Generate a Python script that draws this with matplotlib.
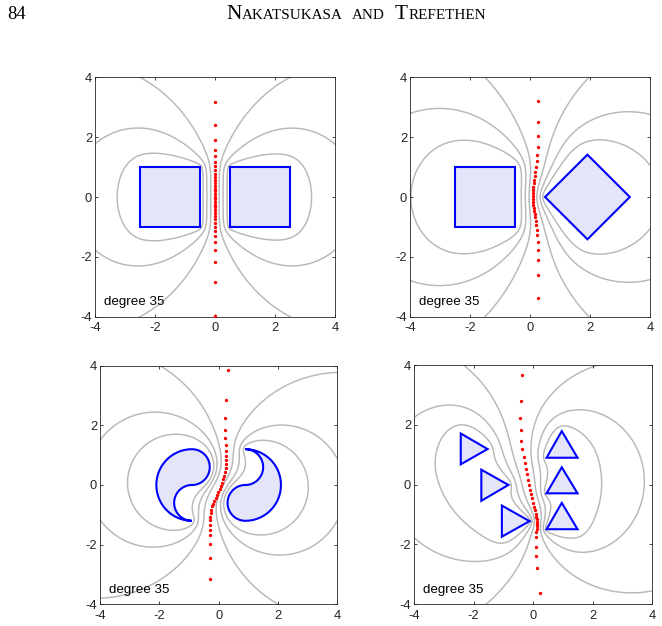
import numpy as np
import matplotlib
matplotlib.use("Agg")
import matplotlib.pyplot as plt
from matplotlib.patches import Polygon

W, H, DPI = 662, 626, 100

# ---------------- data ----------------
tick_values = [-4, -2, 0, 2, 4]
tick_labels = ['-4', '-2', '0', '2', '4']
panel_label = 'degree 35'
page_number = '84'
running_head = 'Nakatsukasa and Trefethen'

# Panel 1: two squares
p1_left_x = [-2.5, -0.5, -0.5, -2.5]
p1_left_y = [-1.0, -1.0, 1.0, 1.0]
p1_right_x = [0.5, 2.5, 2.5, 0.5]
p1_right_y = [-1.0, -1.0, 1.0, 1.0]
p1_pole_x = [0.0] * 34
p1_pole_y = [3.17, 2.40, 1.90, 1.57, 1.36, 1.18, 1.02, 0.89, 0.77, 0.66, 0.56,
             0.46, 0.37, 0.28, 0.19, 0.10, 0.01, -0.08, -0.17, -0.26, -0.35,
             -0.44, -0.54, -0.64, -0.75, -0.87, -1.00, -1.15, -1.30, -1.49,
             -1.77, -2.18, -2.83, -3.97]
# points through which the drawn level curves pass (left side, right side)
p1_level_x = [-3.26, -2.72, -2.50, 3.22, 2.67, 2.50]
p1_level_y = [0.00, 2.30, 4.00, 0.00, 2.30, 4.00]

# Panel 2: square and diamond
p2_left_x = [-2.5, -0.5, -0.5, -2.5]
p2_left_y = [-1.0, -1.0, 1.0, 1.0]
p2_right_x = [0.5, 1.914, 3.328, 1.914]
p2_right_y = [0.0, 1.414, 0.0, -1.414]
p2_pole_x = [0.27, 0.27, 0.27, 0.26, 0.24, 0.22, 0.20, 0.18, 0.16, 0.13, 0.12,
             0.11, 0.10, 0.09, 0.09, 0.09, 0.10, 0.11, 0.12, 0.13, 0.16, 0.17,
             0.19, 0.20, 0.22, 0.23, 0.26, 0.27, 0.28, 0.28, 0.28]
p2_pole_y = [3.21, 2.51, 2.04, 1.68, 1.40, 1.19, 1.00, 0.84, 0.70, 0.58, 0.46,
             0.34, 0.24, 0.14, 0.04, -0.06, -0.16, -0.26, -0.36, -0.46, -0.57,
             -0.68, -0.80, -0.93, -1.09, -1.28, -1.50, -1.77, -2.10, -2.59, -3.37]
p2_level_x = [-3.97, -3.06, -1.50, 2.28, 3.28, 1.97]
p2_level_y = [0.00, 2.96, 4.00, 1.91, 2.85, 4.00]

# Panel 3: two yin-yang shapes (outer circle centres, radii)
p3_centre_x = [-0.9, 0.9]
p3_outer_r = 1.2
p3_inner_r = 0.6
p3_pole_x = [0.31, 0.24, 0.20, 0.22, 0.22, 0.24, 0.25, 0.26, 0.26, 0.26, 0.25,
             0.22, 0.19, 0.15, 0.12, 0.08, 0.03, -0.01, -0.06, -0.10, -0.15,
             -0.18, -0.22, -0.25, -0.27, -0.28, -0.29, -0.29, -0.29, -0.29,
             -0.28, -0.29, -0.29]
p3_pole_y = [3.87, 2.85, 2.26, 1.86, 1.58, 1.34, 1.14, 0.97, 0.83, 0.69, 0.56,
             0.42, 0.30, 0.19, 0.08, -0.02, -0.12, -0.22, -0.32, -0.42, -0.52,
             -0.63, -0.72, -0.84, -0.95, -1.07, -1.19, -1.34, -1.51, -1.68,
             -1.98, -2.44, -3.16]
p3_level_x = [-3.07, -2.26, -1.98, 3.02, 2.07, 2.01]
p3_level_y = [0.00, 2.44, 4.00, 0.00, 2.01, -4.00]

# Panel 4: three triangles on each side
p4_left_tri_x = [[-2.43, -2.43, -1.53], [-1.74, -1.74, -0.83], [-1.05, -1.05, -0.12]]
p4_left_tri_y = [[1.71, 0.68, 1.19], [0.50, -0.54, -0.01], [-0.70, -1.74, -1.22]]
p4_right_tri_x = [[0.45, 1.49, 0.96], [0.45, 1.49, 0.96], [0.45, 1.49, 0.96]]
p4_right_tri_y = [[0.90, 0.90, 1.79], [-0.29, -0.29, 0.58], [-1.49, -1.49, -0.61]]
p4_pole_x = [-0.39, -0.42, -0.43, -0.42, -0.41, -0.36, -0.32, -0.27, -0.24, -0.21,
             -0.17, -0.14, -0.11, -0.07, -0.04, -0.01, 0.03, 0.06, 0.08, 0.10,
             0.12, 0.13, 0.13, 0.13, 0.12, 0.10, 0.09, 0.09, 0.10, 0.14, 0.22]
p4_pole_y = [3.68, 2.80, 2.24, 1.82, 1.47, 1.18, 0.94, 0.71, 0.51, 0.34, 0.16,
             -0.01, -0.17, -0.31, -0.46, -0.60, -0.74, -0.86, -0.97, -1.07, -1.16,
             -1.24, -1.31, -1.39, -1.48, -1.58, -1.74, -2.07, -2.38, -2.80, -3.61]
p4_level_x = [-3.27, -2.85, -2.34, 2.30, 3.73, 2.19]
p4_level_y = [0.99, 2.66, 4.00, 0.00, 0.00, 4.00]

# ---------------- styling ----------------
FILL = (0.898, 0.898, 0.98)
EDGE = (0.0, 0.0, 1.0)
CONTOUR = (0.72, 0.72, 0.72)
AXC = (0.15, 0.15, 0.15)
SANS = ['Liberation Sans', 'DejaVu Sans']
SERIF = ['Liberation Serif', 'DejaVu Serif']


def yinyang(cx, R, r):
    n = 120
    a = np.linspace(np.pi / 2, 3 * np.pi / 2, n)
    outer = np.c_[cx + R * np.cos(a), R * np.sin(a)]
    b = np.linspace(-np.pi / 2, -3 * np.pi / 2, n // 2)
    lower = np.c_[cx + r * np.cos(b), -r + r * np.sin(b)]
    c = np.linspace(-np.pi / 2, np.pi / 2, n // 2)
    upper = np.c_[cx + r * np.cos(c), r + r * np.sin(c)]
    return np.vstack([outer, lower[1:], upper[1:-1]])


def yinyang_pair(cxs, R, r):
    left = yinyang(cxs[0], R, r)
    right = -left  # rotate by 180 degrees
    right[:, 0] += (cxs[1] + cxs[0])
    return left, right


def sample(poly, h=0.03):
    P = np.asarray(poly)
    Q = np.roll(P, -1, axis=0)
    mids, lens = [], []
    for p, q in zip(P, Q):
        L = np.hypot(*(q - p))
        n = max(1, int(np.ceil(L / h)))
        t = (np.arange(n) + 0.5) / n
        mids.append(p + np.outer(t, q - p))
        lens.append(np.full(n, L / n))
    m = np.vstack(mids)
    return m[:, 0] + 1j * m[:, 1], np.concatenate(lens)


def condenser(E, F):
    ze, he = zip(*[sample(p) for p in E])
    zf, hf = zip(*[sample(p) for p in F])
    ze, he, zf, hf = map(np.concatenate, (ze, he, zf, hf))
    z = np.concatenate([ze, zf])
    h = np.concatenate([he, hf])
    ne, n = len(ze), len(ze) + len(zf)
    D = np.abs(z[:, None] - z[None, :])
    np.fill_diagonal(D, 1.0)
    G = np.log(D)
    np.fill_diagonal(G, np.log(h / 2) - 1)
    A = np.zeros((n + 2, n + 2))
    A[:n, :n] = G
    A[:ne, n] = -1
    A[ne:n, n + 1] = -1
    A[n, :ne] = 1
    A[n + 1, ne:n] = 1
    rhs = np.zeros(n + 2)
    rhs[n] = 1
    rhs[n + 1] = -1
    sol = np.linalg.solve(A, rhs)
    q = sol[:n]

    def U(Zg):
        out = np.zeros(Zg.shape)
        for k in range(0, n, 60):
            zz = z[k:k + 60]
            qq = q[k:k + 60]
            out += np.tensordot(qq, np.log(np.abs(Zg[None] - zz.reshape(-1, *([1] * Zg.ndim)))), axes=1)
        return out
    return U


def draw_panel(ax, E, F, pole_x, pole_y, lev_x, lev_y):
    U = condenser(E, F)
    g = np.linspace(-4.3, 4.3, 311)
    X, Y = np.meshgrid(g, g)
    Ug = U(X + 1j * Y)
    lv = U(np.asarray(lev_x) + 1j * np.asarray(lev_y))
    lv = np.unique(np.round(lv, 8))
    ax.contour(X, Y, Ug, levels=lv, colors=[CONTOUR], linewidths=1.05,
               linestyles='solid', zorder=1)
    for p in list(E) + list(F):
        ax.add_patch(Polygon(p, closed=True, facecolor=FILL, edgecolor=EDGE,
                             linewidth=1.5, zorder=2, joinstyle='miter'))
    ax.plot(pole_x, pole_y, 'o', color=(1, 0, 0), markersize=2.4,
            markeredgewidth=0, zorder=3)
    ax.text(-3.7, -3.62, panel_label, fontsize=9.6, family=SANS, va='baseline',
            ha='left', color='k', zorder=4)
    ax.set_xlim(-4, 4)
    ax.set_ylim(-4, 4)
    ax.set_xticks(tick_values)
    ax.set_xticklabels(tick_labels)
    ax.set_yticks(tick_values)
    ax.set_yticklabels(tick_labels)
    ax.tick_params(direction='in', length=2.5, width=0.6, top=True, right=True,
                   labelsize=9.3, colors=AXC)
    ax.tick_params(axis='x', pad=4.0)
    ax.tick_params(axis='y', pad=2.0)
    for lab in ax.get_xticklabels() + ax.get_yticklabels():
        lab.set_family(SANS)
    for s in ax.spines.values():
        s.set_color(AXC)
        s.set_linewidth(0.6)


def poly(xs, ys):
    return np.c_[xs, ys]


fig = plt.figure(figsize=(W / DPI, H / DPI), dpi=DPI)


def axes_px(x0, x1, y0, y1):
    return fig.add_axes([x0 / W, 1 - y1 / H, (x1 - x0) / W, (y1 - y0) / H])


ax1 = axes_px(95, 335, 77.3, 316.7)
ax2 = axes_px(410, 650, 77.3, 316.7)
ax3 = axes_px(100, 337.3, 365.7, 604.3)
ax4 = axes_px(414, 652.3, 365, 604.3)

draw_panel(ax1, [poly(p1_left_x, p1_left_y)], [poly(p1_right_x, p1_right_y)],
           p1_pole_x, p1_pole_y, p1_level_x, p1_level_y)
draw_panel(ax2, [poly(p2_left_x, p2_left_y)], [poly(p2_right_x, p2_right_y)],
           p2_pole_x, p2_pole_y, p2_level_x, p2_level_y)
yl, yr = yinyang_pair(p3_centre_x, p3_outer_r, p3_inner_r)
draw_panel(ax3, [yl], [yr], p3_pole_x, p3_pole_y, p3_level_x, p3_level_y)
draw_panel(ax4, [poly(a, b) for a, b in zip(p4_left_tri_x, p4_left_tri_y)],
           [poly(a, b) for a, b in zip(p4_right_tri_x, p4_right_tri_y)],
           p4_pole_x, p4_pole_y, p4_level_x, p4_level_y)

# ---------------- page header ----------------
fig.text(7 / W, 1 - 19.3 / H, page_number, fontsize=13.3, family=SERIF,
         va='baseline', ha='left')

renderer = fig.canvas.get_renderer()


def smallcaps(text, x_left, x_right, y_base, big=12.7, small=9.0):
    pieces = []
    for i, word in enumerate(text.split(' ')):
        if i:
            pieces.append((None, small))
        if word[0].isupper():
            pieces.append((word[0], big))
            pieces.append((word[1:].upper(), small))
        else:
            pieces.append((word.upper(), small))

    def build(scale):
        arts, x = [], 0.0
        for s, sz in pieces:
            if s is None:
                x += 0.62 * sz * scale * DPI / 72
                continue
            t = fig.text(0, 1 - y_base / H, s, fontsize=sz * scale, family=SERIF,
                         va='baseline', ha='left')
            w = t.get_window_extent(renderer).width
            arts.append((t, x))
            x += w + 0.3
        return arts, x
    arts, total = build(1.0)
    for t, _ in arts:
        t.remove()
    sc = (x_right - x_left) / total
    arts, total = build(sc)
    for t, x in arts:
        t.set_x((x_left + x) / W)


smallcaps(running_head, 226, 485, 19.0)

fig.savefig('out.png', dpi=DPI)
